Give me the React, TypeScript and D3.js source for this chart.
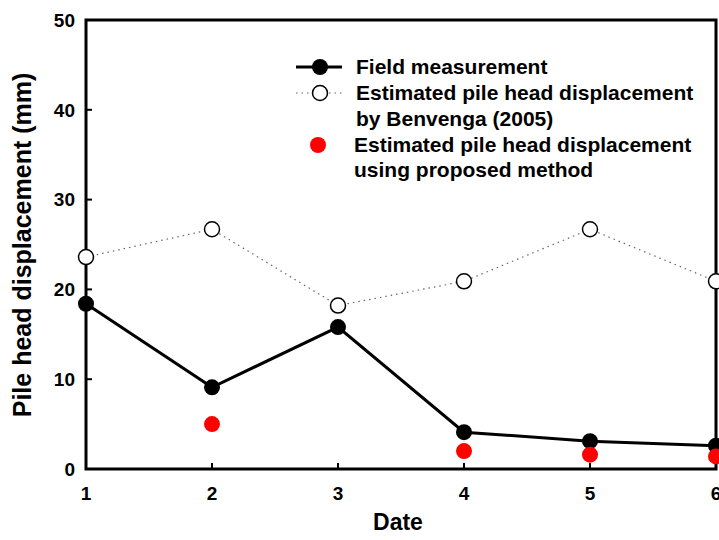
import React from 'react'
import * as d3 from 'd3'

const dates = [1, 2, 3, 4, 5, 6]
const fieldValues = [18.4, 9.1, 15.8, 4.1, 3.1, 2.6]
const benvengaValues = [23.6, 26.7, 18.2, 20.9, 26.7, 20.9]
const proposedDates = [2, 4, 5, 6]
const proposedValues = [5.0, 2.0, 1.6, 1.4]
const yTicks = [0, 10, 20, 30, 40, 50]

const width = 719
const height = 540
const left = 86
const right = 716
const top = 20
const bottom = 469
const font = '"Liberation Sans", Arial, sans-serif'

const App = () => {
  const x = d3.scaleLinear().domain([1, 6]).range([left, right])
  const y = d3.scaleLinear().domain([0, 50]).range([bottom, top])

  const line = d3
    .line<[number, number]>()
    .x(d => x(d[0]))
    .y(d => y(d[1]))

  const field = dates.map((d, i) => [d, fieldValues[i]] as [number, number])
  const benvenga = dates.map((d, i) => [d, benvengaValues[i]] as [number, number])
  const proposed = proposedDates.map((d, i) => [d, proposedValues[i]] as [number, number])

  return (
    <svg width={width} height={height} style={{ position: 'absolute', left: 0, top: 0 }} fontFamily={font} fontWeight="bold">
      {/* frame */}
      <path d={`M${left},${bottom}V${top}H${right}V${bottom}Z`} fill="none" stroke="#000" strokeWidth={3} />
      {/* ticks */}
      {yTicks.map(t => (
        <g key={'y' + t}>
          <line x1={left} x2={left + 6} y1={y(t)} y2={y(t)} stroke="#000" strokeWidth={2} />
          <text x={left - 11} y={y(t)} dy="0.36em" textAnchor="end" fontSize={19}>{t}</text>
        </g>
      ))}
      {dates.map(t => (
        <g key={'x' + t}>
          <line x1={x(t)} x2={x(t)} y1={bottom} y2={bottom - 6} stroke="#000" strokeWidth={2} />
          <text x={x(t)} y={bottom + 31} textAnchor="middle" fontSize={19}>{t}</text>
        </g>
      ))}
      <text x={398} y={530} textAnchor="middle" fontSize={23}>Date</text>
      <text transform="translate(31,245) rotate(-90)" textAnchor="middle" fontSize={25}>Pile head displacement (mm)</text>

      {/* Benvenga */}
      <path d={line(benvenga) || ''} fill="none" stroke="#666" strokeWidth={1.2} strokeDasharray="1.5,4" />
      {benvenga.map((d, i) => (
        <circle key={'b' + i} cx={x(d[0])} cy={y(d[1])} r={7.5} fill="#fff" stroke="#000" strokeWidth={1.5} />
      ))}
      {/* field */}
      <path d={line(field) || ''} fill="none" stroke="#000" strokeWidth={3} />
      {field.map((d, i) => (
        <circle key={'f' + i} cx={x(d[0])} cy={y(d[1])} r={8} fill="#000" />
      ))}
      {/* proposed */}
      {proposed.map((d, i) => (
        <circle key={'p' + i} cx={x(d[0])} cy={y(d[1])} r={8} fill="#ff0000" />
      ))}

      {/* legend */}
      <g fontSize={21}>
        <line x1={296} x2={342} y1={67} y2={67} stroke="#000" strokeWidth={3} />
        <circle cx={320} cy={67} r={8} fill="#000" />
        <text x={356} y={74}>Field measurement</text>
        <line x1={296} x2={342} y1={93} y2={93} stroke="#666" strokeWidth={1.2} strokeDasharray="1.5,4" />
        <circle cx={320} cy={93} r={7.5} fill="#fff" stroke="#000" strokeWidth={1.5} />
        <text x={356} y={100}>Estimated pile head displacement</text>
        <text x={356} y={126}>by Benvenga (2005)</text>
        <circle cx={318} cy={145} r={8} fill="#ff0000" />
        <text x={354} y={152}>Estimated pile head displacement</text>
        <text x={354} y={177}>using proposed method</text>
      </g>
    </svg>
  )
}

export default App
